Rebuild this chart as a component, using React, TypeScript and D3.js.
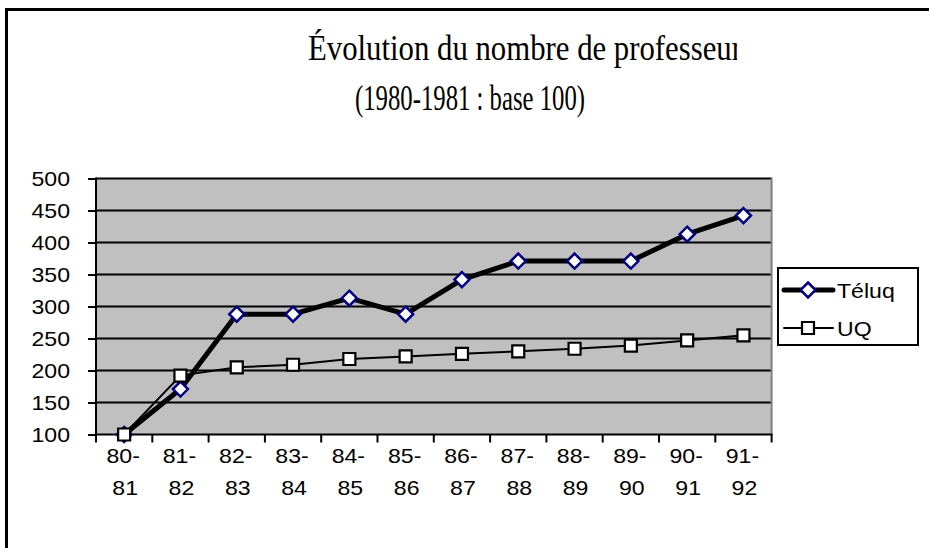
import * as React from 'react';
import * as d3 from 'd3';

// values (1980-1981 = 100)
const categories = ['80-81', '81-82', '82-83', '83-84', '84-85', '85-86', '86-87', '87-88', '88-89', '89-90', '90-91', '91-92'];
const teluq = [100, 171, 288, 288, 313, 288, 342, 371, 371, 371, 413, 442];
const uq = [100, 192, 205, 209, 218, 222, 226, 230, 234, 239, 247, 255];
const yTicks = [100, 150, 200, 250, 300, 350, 400, 450, 500];

const sans = '"Liberation Sans", Arial, sans-serif';
const serif = '"Liberation Serif", "Times New Roman", serif';

// old Arial rendering in the picture is a bit wider than Liberation Sans
const widen = (sel: d3.Selection<any, any, any, any>, k: number) => {
  sel.each(function () {
    const el = this as SVGTextContentElement;
    const w = el.getComputedTextLength();
    d3.select(el).attr('textLength', w * k).attr('lengthAdjust', 'spacingAndGlyphs');
  });
};

export default function App() {
  const ref = React.useRef<SVGSVGElement>(null);

  React.useEffect(() => {
    const svg = d3.select(ref.current);
    svg.selectAll('*').remove();

    const left = 96, right = 771.6, top = 178.5, bottom = 434.5;

    const x = d3.scaleBand().domain(categories).range([left, right]).padding(0);
    const y = d3.scaleLinear().domain([100, 500]).range([bottom, top]);
    const cx = (c: string) => (x(c) as number) + x.bandwidth() / 2;

    // outer frame (cut by the picture on right and bottom)
    svg.append('line').attr('x1', 5).attr('x2', 929).attr('y1', 9.5).attr('y2', 9.5)
      .attr('stroke', '#000').attr('stroke-width', 3);
    svg.append('line').attr('x1', 6.5).attr('x2', 6.5).attr('y1', 8).attr('y2', 548)
      .attr('stroke', '#000').attr('stroke-width', 3);

    // title
    svg.append('clipPath').attr('id', 'tclip')
      .append('rect').attr('x', 0).attr('y', 0).attr('width', 737).attr('height', 140);
    svg.append('text')
      .attr('clip-path', 'url(#tclip)')
      .attr('x', 308).attr('y', 60)
      .attr('textLength', 434).attr('lengthAdjust', 'spacingAndGlyphs')
      .style('font-family', serif).style('font-size', '36px')
      .text('Évolution du nombre de professeur');
    svg.append('text')
      .attr('x', 470).attr('y', 110)
      .attr('text-anchor', 'middle')
      .attr('textLength', 230).attr('lengthAdjust', 'spacingAndGlyphs')
      .style('font-family', serif).style('font-size', '36px')
      .text('(1980-1981 : base 100)');

    // plot area
    svg.append('rect').attr('x', left).attr('y', top)
      .attr('width', right - left).attr('height', bottom - top)
      .attr('fill', '#c0c0c0');

    svg.append('g').selectAll('line')
      .data(yTicks.filter(t => t !== 100))
      .enter().append('line')
      .attr('x1', left).attr('x2', right)
      .attr('y1', d => y(d)).attr('y2', d => y(d))
      .attr('stroke', '#000').attr('stroke-width', 2);

    svg.append('line').attr('x1', right).attr('x2', right).attr('y1', top - 1).attr('y2', bottom)
      .attr('stroke', '#808080').attr('stroke-width', 2);

    // y axis
    const yAxis = svg.append('g').attr('transform', `translate(${left},0)`)
      .call(d3.axisLeft(y).tickValues(yTicks).tickSize(8).tickPadding(18).tickFormat(d3.format('d')));
    yAxis.select('.domain').attr('stroke-width', 2).attr('d', `M0,${top - 1}V${bottom + 1}`);
    yAxis.selectAll('.tick line').attr('stroke-width', 2);
    const yl = yAxis.selectAll('.tick text')
      .style('font-family', sans).style('font-size', '21px').attr('fill', '#000');
    widen(yl, 1.1);

    // x axis
    const xg = svg.append('g');
    xg.append('line').attr('x1', left - 1).attr('x2', right + 1).attr('y1', bottom).attr('y2', bottom)
      .attr('stroke', '#000').attr('stroke-width', 2);
    const bounds = categories.map(c => x(c) as number).concat([right]);
    xg.selectAll('line.tk').data(bounds).enter().append('line')
      .attr('class', 'tk')
      .attr('x1', d => d).attr('x2', d => d)
      .attr('y1', bottom).attr('y2', bottom + 8)
      .attr('stroke', '#000').attr('stroke-width', 2);
    const l1 = xg.selectAll('text.l1').data(categories).enter().append('text')
      .attr('class', 'l1').attr('text-anchor', 'middle')
      .attr('x', d => cx(d) - 1).attr('y', 463)
      .style('font-family', sans).style('font-size', '21px')
      .text(d => d.split('-')[0] + '-');
    const l2 = xg.selectAll('text.l2').data(categories).enter().append('text')
      .attr('class', 'l2').attr('text-anchor', 'middle')
      .attr('x', d => cx(d) + 1).attr('y', 495)
      .style('font-family', sans).style('font-size', '21px')
      .text(d => d.split('-')[1]);
    widen(l1, 1.1);
    widen(l2, 1.1);

    // series
    const line = d3.line<number>().x((_, i) => cx(categories[i])).y(d => y(d));

    const diamond = (r: number) => `M0,${-r}L${r},0L0,${r}L${-r},0Z`;
    const square = (r: number) => `M${-r},${-r}H${r}V${r}H${-r}Z`;

    svg.append('path').datum(teluq).attr('d', line)
      .attr('fill', 'none').attr('stroke', '#000').attr('stroke-width', 5).attr('stroke-linejoin', 'round');
    svg.append('g').selectAll('path').data(teluq).enter().append('path')
      .attr('transform', (d, i) => `translate(${cx(categories[i])},${y(d)})`)
      .attr('d', diamond(7.5))
      .attr('fill', '#fff').attr('stroke', '#000080').attr('stroke-width', 2.5);

    svg.append('path').datum(uq).attr('d', line)
      .attr('fill', 'none').attr('stroke', '#000').attr('stroke-width', 2);
    svg.append('g').selectAll('path').data(uq).enter().append('path')
      .attr('transform', (d, i) => `translate(${cx(categories[i])},${y(d)})`)
      .attr('d', square(6))
      .attr('fill', '#fff').attr('stroke', '#000').attr('stroke-width', 2.2);

    // legend
    const lg = svg.append('g');
    lg.append('rect').attr('x', 778).attr('y', 268).attr('width', 140).attr('height', 77)
      .attr('fill', '#fff').attr('stroke', '#000').attr('stroke-width', 2);
    const items = [
      { name: 'Téluq', w: 5, mk: diamond(7.5), st: '#000080', sw: 2.5, yy: 290 },
      { name: 'UQ', w: 2, mk: square(6), st: '#000', sw: 2.2, yy: 328 },
    ];
    items.forEach(it => {
      lg.append('line').attr('x1', 784).attr('x2', 833).attr('y1', it.yy).attr('y2', it.yy)
        .attr('stroke', '#000').attr('stroke-width', it.w).attr('stroke-linecap', 'round');
      lg.append('path').attr('transform', `translate(808,${it.yy})`).attr('d', it.mk)
        .attr('fill', '#fff').attr('stroke', it.st).attr('stroke-width', it.sw);
      const t = lg.append('text').attr('x', 837).attr('y', it.yy + 7.5)
        .style('font-family', sans).style('font-size', '21px').text(it.name);
      widen(t, 1.1);
    });
  }, []);

  return (
    <div style={{ position: 'absolute', left: 0, top: 0 }}>
      <svg ref={ref} width={929} height={548} style={{ display: 'block', background: '#fff' }} />
    </div>
  );
}
